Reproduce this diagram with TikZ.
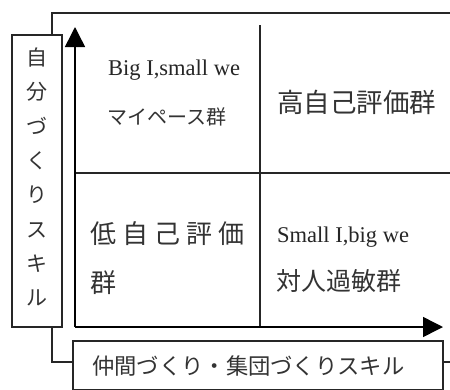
\documentclass[tikz,border=0pt]{standalone}
\usepackage{fontspec}
\newfontfamily\jp{Noto Sans CJK JP}
\newfontfamily\enfont{Liberation Serif}
\usetikzlibrary{arrows.meta}
\tikzset{
  frameline/.style={draw=black!85, line width=1.3pt},
  labelbox/.style={draw=black!85, fill=white, line width=1.3pt, inner sep=0pt},
  gridline/.style={draw=black!85, line width=1.3pt},
  axisline/.style={draw=black, line width=1.5pt, -{Triangle[length=20pt,width=20pt]}},
  entext/.style={inner sep=0pt, anchor=base west, text=black!85, font=\enfont\fontsize{22.5}{26}\selectfont},
  jptext/.style={inner sep=0pt, anchor=west, text=black!80},
}
\begin{document}
\begin{tikzpicture}[x=1pt,y=-1pt]
\useasboundingbox (0,0) rectangle (450,389);
\fill[white] (0,0) rectangle (450,389);
% outer frame
\coordinate (ftr) at (450,13);
\coordinate (ftl) at (52,13);
\coordinate (fbl) at (52,362);
\coordinate (fbr) at (450,362);
\draw[frameline] (ftr) -- (ftl) -- (fbl) -- (fbr);
% label boxes
\node[labelbox, minimum width=50pt, minimum height=292pt] (ybox) at (37,181) {};
\node[jptext, anchor=center, align=center, font=\jp\fontsize{21}{34.3}\selectfont] (ytext) at (37,177)
  {自\\分\\づ\\く\\り\\ス\\キ\\ル};
\node[labelbox, minimum width=370pt, minimum height=49pt] (xbox) at (258,365.5) {};
\node[jptext, font=\jp\fontsize{22.3}{26}\selectfont] (xtext) at (92,366.5) {仲間づくり・集団づくりスキル};
% quadrant lines
\coordinate (vtop) at (260,25);
\coordinate (vbot) at (260,327);
\coordinate (hleft) at (75,173);
\coordinate (hright) at (450,173);
\draw[gridline] (vtop) -- (vbot);
\draw[gridline] (hleft) -- (hright);
% axes
\coordinate (O) at (75,327);
\coordinate (ytip) at (75,27);
\coordinate (xtip) at (443,327);
\draw[axisline] (O) -- (ytip);
\draw[axisline] (O) -- (xtip);
% quadrant texts
\node[entext] (q1a) at (108,75) {Big I,small we};
\node[jptext, font=\jp\fontsize{20}{24}\selectfont] (q1b) at (107,117) {マイペース群};
\node[jptext, font=\jp\fontsize{26.5}{30}\selectfont] (q2) at (277,102.5) {高自己評価群};
\node[jptext, font=\jp\fontsize{26}{30}\selectfont] (q3a) at (90,234)
  {低\hspace{6pt}自\hspace{6pt}己\hspace{6pt}評\hspace{6pt}価};
\node[jptext, font=\jp\fontsize{26}{30}\selectfont] (q3b) at (90,282.5) {群};
\node[entext] (q4a) at (277,242) {Small I,big we};
\node[jptext, font=\jp\fontsize{25}{30}\selectfont] (q4b) at (276,281.5) {対人過敏群};
\end{tikzpicture}
\end{document}
